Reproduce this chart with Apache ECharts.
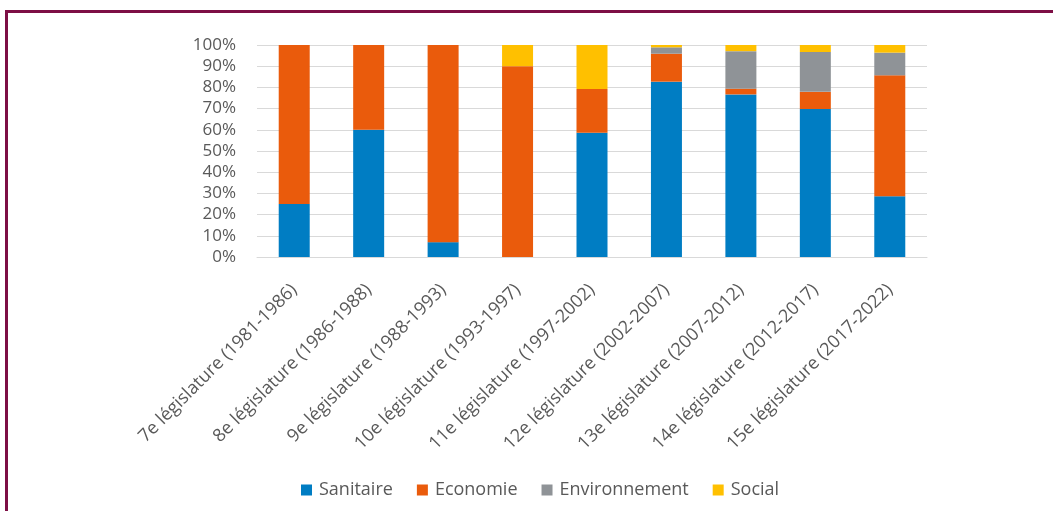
<!DOCTYPE html>
<html>
<head>
<meta charset="utf-8">
<script src="https://cdn.jsdelivr.net/npm/echarts@6/dist/echarts.min.js"></script>
<style>
html,body{margin:0;padding:0;background:#fff;}
#chart{width:1053px;height:511px;}
</style>
</head>
<body>
<div id="chart"></div>
<script>
const categories = [
  '7e législature (1981-1986)',
  '8e législature (1986-1988)',
  '9e législature (1988-1993)',
  '10e législature (1993-1997)',
  '11e législature (1997-2002)',
  '12e législature (2002-2007)',
  '13e législature (2007-2012)',
  '14e législature (2012-2017)',
  '15e législature (2017-2022)'
];
const sanitaire      = [25, 60, 7, 0, 58.6, 82.7, 76.7, 69.8, 28.6];
const economie       = [75, 40, 93, 90, 20.7, 13.2, 2.7, 8.1, 57.1];
const environnement  = [0, 0, 0, 0, 0, 3.0, 17.7, 18.8, 10.7];
const social         = [0, 0, 0, 10, 20.7, 1.1, 2.9, 3.3, 3.6];
const seriesNames = ['Sanitaire', 'Economie', 'Environnement', 'Social'];
const colors = ['#007DC3', '#EA5B0C', '#8F9397', '#FFC000'];

const chart = echarts.init(document.getElementById('chart'), null, {renderer: 'canvas'});
const font = 'Open Sans';
const dataArr = [sanitaire, economie, environnement, social];

chart.setOption({
  animation: false,
  color: colors,
  graphic: [
    {type: 'line', shape: {x1: 6.5, y1: 11.5, x2: 1053, y2: 11.5}, style: {stroke: '#7D0F45', lineWidth: 3}},
    {type: 'line', shape: {x1: 6.5, y1: 10, x2: 6.5, y2: 511}, style: {stroke: '#7D0F45', lineWidth: 3}}
  ],
  grid: {left: 257, right: 126, top: 45, bottom: 254},
  legend: {
    bottom: 7,
    left: 296,
    itemWidth: 11,
    itemHeight: 11,
    itemGap: 24,
    icon: 'rect',
    textStyle: {fontFamily: font, fontSize: 18, color: '#595959', padding: [0, 0, 0, 2]},
    data: seriesNames
  },
  xAxis: {
    type: 'category',
    data: categories,
    axisLine: {lineStyle: {color: '#D9D9D9', width: 1}},
    axisTick: {show: false},
    axisLabel: {
      rotate: 45,
      interval: 0,
      margin: 30,
      fontFamily: font,
      fontSize: 18,
      color: '#595959'
    }
  },
  yAxis: {
    type: 'value',
    min: 0,
    max: 100,
    interval: 10,
    axisLine: {show: false},
    axisTick: {show: false},
    splitLine: {lineStyle: {color: '#D9D9D9', width: 1}},
    axisLabel: {
      formatter: '{value}%',
      margin: 21,
      fontFamily: font,
      fontSize: 17,
      color: '#595959'
    }
  },
  series: seriesNames.map((name, i) => ({
    name: name,
    type: 'bar',
    stack: 'total',
    barWidth: 31,
    data: dataArr[i]
  }))
});
</script>
</body>
</html>
